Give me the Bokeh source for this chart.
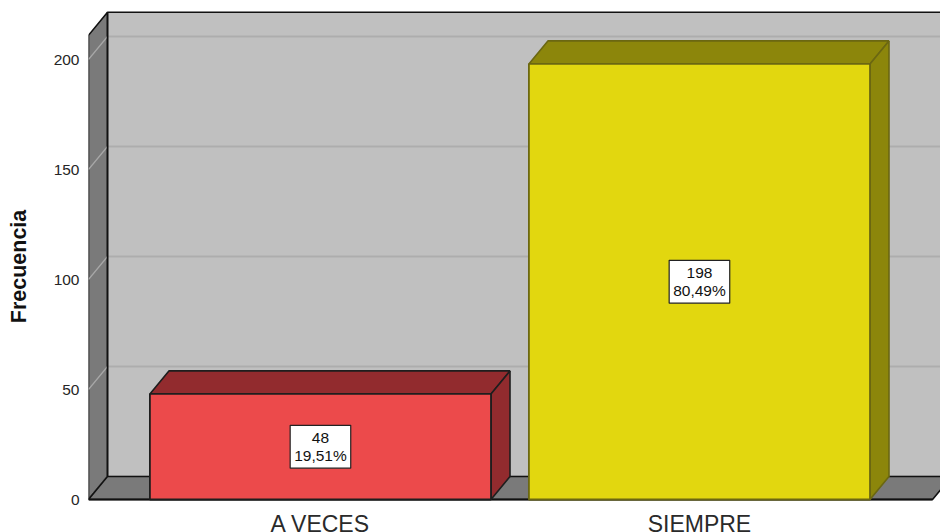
import numpy as np
from bokeh.plotting import figure
from bokeh.models import Range1d, FixedTicker, ColumnDataSource
from bokeh.core.properties import value
from bokeh.embed import file_html
from bokeh.resources import INLINE

# ---- data ----
categories = ["A VECES", "SIEMPRE"]
counts = [48, 198]
front_colors = ["#ec4a4b", "#e2d70f"]
dark_colors = ["#922b2e", "#8c860b"]
edge_colors = ["#1e1e1e", "#6b6712"]
y_ticks = [0, 50, 100, 150, 200]

total = sum(counts)
pct_labels = [("%.2f%%" % (100.0 * c / total)).replace(".", ",") for c in counts]
box_labels = ["%d\n%s" % (c, s) for c, s in zip(counts, pct_labels)]

# ---- geometry (style constants) ----
PX_PER_CAT = 379.0
PX_PER_UNIT = 2.2
DX = 19.0 / PX_PER_CAT          # depth offset in x (data units)
DY = 23.0 / PX_PER_UNIT         # depth offset in y (data units)
HALF = 0.45                     # half bar width
X_LEFT = -0.612                 # wall / floor front-left
X_RIGHT = 1.615                 # floor front-right
Y_TOP = 211.0                   # wall top (front equivalent)
FRAME_W = 852.0
FRAME_H = 532.0
Y_BOTTOM_PX = 33.0              # pixels below the zero line

xs = np.arange(len(categories), dtype=float)

p = figure(width=940, height=532,
           x_range=Range1d(X_LEFT, X_LEFT + FRAME_W / PX_PER_CAT),
           y_range=Range1d(-Y_BOTTOM_PX / PX_PER_UNIT,
                           (FRAME_H - Y_BOTTOM_PX) / PX_PER_UNIT),
           output_backend="svg", toolbar_location=None,
           x_axis_location=None,
           min_border_left=88, min_border_right=0, min_border_top=0, min_border_bottom=0)
p.outline_line_color = None
p.grid.visible = False
p.background_fill_color = "white"
p.border_fill_color = "white"

# back wall
p.patch([X_LEFT + DX, X_RIGHT + DX + 1, X_RIGHT + DX + 1, X_LEFT + DX],
        [DY, DY, Y_TOP + DY, Y_TOP + DY],
        fill_color="#c0c0c0", line_color=None)
# grid lines on back wall and left wall
gx0 = [X_LEFT + DX] * len(y_ticks)
gy = [t + DY for t in y_ticks]
p.segment(x0=gx0, y0=gy, x1=[X_RIGHT + DX + 1] * len(y_ticks), y1=gy,
          line_color="#adadad", line_width=2)

# left wall
p.patch([X_LEFT, X_LEFT, X_LEFT + DX, X_LEFT + DX],
        [0, Y_TOP, Y_TOP + DY, DY],
        fill_color="#7a7a7a", line_color="#111111", line_width=1.6)
p.segment(x0=[X_LEFT] * len(y_ticks), y0=y_ticks, x1=gx0, y1=gy,
          line_color="#a8a8a8", line_width=1.2)
# back wall outline (top and left edge)
p.line([X_LEFT + DX, X_LEFT + DX, X_RIGHT + DX + 1], [DY, Y_TOP + DY, Y_TOP + DY],
       line_color="#111111", line_width=1.6)

# floor
p.patch([X_LEFT, X_RIGHT, X_RIGHT + DX, X_LEFT + DX],
        [0, 0, DY, DY],
        fill_color="#7a7a7a", line_color="#111111", line_width=1.6)
p.line([X_LEFT, X_RIGHT], [0, 0], line_color="#111111", line_width=2.2)

# bars
for i, c in enumerate(counts):
    x0, x1 = xs[i] - HALF, xs[i] + HALF
    # top face
    p.patch([x0, x1, x1 + DX, x0 + DX], [c, c, c + DY, c + DY],
            fill_color=dark_colors[i], line_color=edge_colors[i], line_width=1.6)
    # side face
    p.patch([x1, x1 + DX, x1 + DX, x1], [0, DY, c + DY, c],
            fill_color=dark_colors[i], line_color=edge_colors[i], line_width=1.6)

src = ColumnDataSource(dict(left=xs - HALF, right=xs + HALF,
                            top=counts, bottom=[0] * len(counts),
                            fill=front_colors, edge=edge_colors))
p.quad(left="left", right="right", top="top", bottom="bottom", source=src,
       fill_color="fill", line_color="edge", line_width=1.8)

# value labels
lab = ColumnDataSource(dict(x=xs, y=[c / 2.0 for c in counts], t=box_labels))
p.text(x="x", y="y", text="t", source=lab,
       text_align="center", text_baseline="middle",
       text_font=value("Liberation Sans"), text_font_size="15.5px",
       text_color="#111111", text_line_height=1.05,
       background_fill_color="white", border_line_color="#222222",
       border_line_width=1.2, padding=4)

# category labels
cat = ColumnDataSource(dict(x=xs, y=[-11.0 / PX_PER_UNIT] * len(xs), t=categories))
p.text(x="x", y="y", text="t", source=cat,
       text_align="center", text_baseline="top",
       text_font=value("Liberation Sans"), text_font_size="23px",
       text_color="#2a2a2a")

# y axis
ax = p.yaxis[0]
ax.ticker = FixedTicker(ticks=y_ticks)
ax.axis_line_color = None
ax.major_tick_line_color = None
ax.minor_tick_line_color = None
ax.major_label_standoff = 3
ax.major_label_text_font = "Liberation Sans"
ax.major_label_text_font_size = "15.5px"
ax.major_label_text_color = "#262626"
ax.axis_label = "Frecuencia"
ax.axis_label_text_font = "Liberation Sans"
ax.axis_label_text_font_size = "21.5px"
ax.axis_label_text_font_style = "bold"
ax.axis_label_text_color = "#111111"
ax.axis_label_standoff = 20

open("out.html", "w").write(file_html(p, INLINE))
